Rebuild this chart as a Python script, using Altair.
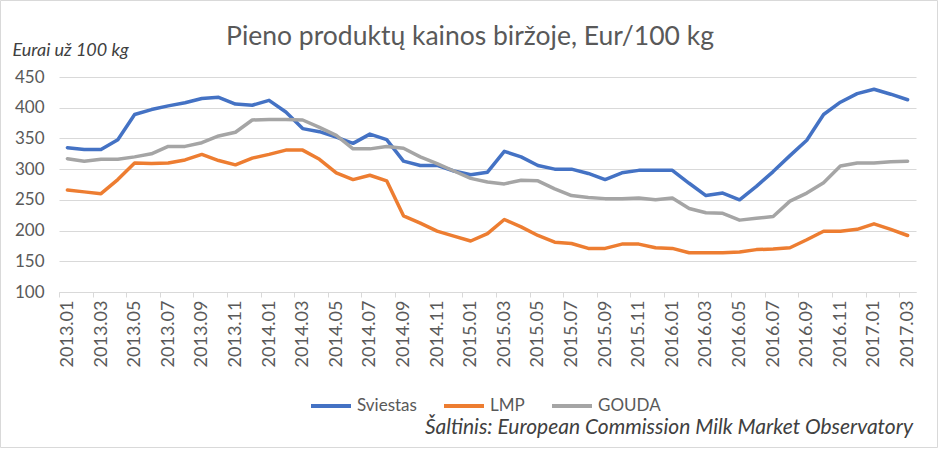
import altair as alt
import pandas as pd

months = [
    "2013.01", "2013.02", "2013.03", "2013.04", "2013.05", "2013.06", "2013.07", "2013.08", "2013.09", "2013.10", "2013.11", "2013.12",
    "2014.01", "2014.02", "2014.03", "2014.04", "2014.05", "2014.06", "2014.07", "2014.08", "2014.09", "2014.10", "2014.11", "2014.12",
    "2015.01", "2015.02", "2015.03", "2015.04", "2015.05", "2015.06", "2015.07", "2015.08", "2015.09", "2015.10", "2015.11", "2015.12",
    "2016.01", "2016.02", "2016.03", "2016.04", "2016.05", "2016.06", "2016.07", "2016.08", "2016.09", "2016.10", "2016.11", "2016.12",
    "2017.01", "2017.02", "2017.03",
]

sviestas = [335, 332, 332, 348, 389, 397, 403, 408, 415, 417, 406, 404,
            412, 393, 366, 361, 352, 342, 357, 348, 313, 306, 306, 297,
            291, 295, 329, 320, 306, 300, 300, 293, 283, 294, 298, 298,
            298, 277, 257, 261, 250, 272, 296, 322, 347, 389, 409, 423,
            430, 422, 413]

lmp = [266, 263, 260, 283, 310, 309, 310, 315, 324, 314, 307, 318,
       324, 331, 331, 316, 294, 283, 290, 281, 224, 212, 199, 191,
       183, 195, 218, 206, 192, 181, 179, 171, 171, 178, 178, 172,
       171, 164, 164, 164, 165, 169, 170, 172, 185, 199, 199, 202,
       211, 202, 192]

gouda = [317, 313, 316, 316, 320, 325, 337, 337, 343, 354, 360, 380,
         381, 381, 380, 368, 355, 333, 333, 337, 334, 320, 309, 297,
         285, 279, 276, 282, 281, 268, 257, 254, 252, 252, 253, 250,
         253, 236, 229, 228, 217, 220, 223, 248, 261, 278, 305, 310,
         310, 312, 313]

series_names = ["Sviestas", "LMP", "GOUDA"]
series_colors = ["#4472C4", "#ED7D31", "#A5A5A5"]
y_ticks = [100, 150, 200, 250, 300, 350, 400, 450]
x_labels = months[::2]

title_text = "Pieno produktų kainos biržoje, Eur/100 kg"
y_title = "Eurai už 100 kg"
source_text = "Šaltinis: European Commission Milk Market Observatory"

rows = []
for name, vals in zip(series_names, [sviestas, lmp, gouda]):
    for m, v in zip(months, vals):
        rows.append({"month": m, "value": v, "series": name})
df = pd.DataFrame(rows)

W, H = 857, 215
step = W / len(months)

lines = alt.Chart(df).mark_line(strokeWidth=3.5, strokeJoin="round", strokeCap="round").encode(
    x=alt.X("month:O", sort=months, title=None,
            scale=alt.Scale(type="point", padding=0.5),
            axis=alt.Axis(values=x_labels, labelAngle=-90, labelFontSize=18, labelColor="#595959",
                          tickOffset=-step / 2, labelOffset=step / 2, tickSize=5, tickColor="#d9d9d9",
                          domainColor="#d9d9d9", labelPadding=3, grid=False)),
    y=alt.Y("value:Q", title=y_title,
            scale=alt.Scale(domain=[100, 450], nice=False, zero=False),
            axis=alt.Axis(values=y_ticks, labelFontSize=17, labelColor="#595959", ticks=False, domain=False,
                          gridColor="#d9d9d9", labelPadding=15,
                          titleAngle=0, titleAlign="left", titleBaseline="middle", titleX=-47, titleY=-27,
                          titleFontStyle="italic", titleFontWeight="normal", titleFontSize=18,
                          titleColor="#404040")),
    color=alt.Color("series:N", sort=series_names,
                    scale=alt.Scale(domain=series_names, range=series_colors),
                    legend=alt.Legend(title=None, orient="none", legendX=250, legendY=307,
                                      direction="horizontal", symbolType="stroke", symbolStrokeWidth=4,
                                      symbolSize=1600, labelFontSize=17, labelColor="#595959",
                                      columnPadding=19, labelOffset=4)),
)

src_df = pd.DataFrame({"t": [source_text]})
source = alt.Chart(src_df).mark_text(align="right", baseline="middle", fontStyle="italic",
                                     fontSize=21, color="#404040").encode(
    text="t:N", x=alt.value(854), y=alt.value(351))

title = alt.Chart(src_df).mark_text(align="center", baseline="middle", fontSize=26.5,
                                    color="#595959").encode(
    text=alt.value(title_text), x=alt.value(411), y=alt.value(-40))

border = alt.Chart(src_df).mark_rect(fill="transparent", stroke="#d9d9d9", strokeWidth=1).encode(
    x=alt.value(-58.5), x2=alt.value(878.5), y=alt.value(-76.5), y2=alt.value(370.5))

chart = alt.layer(border, lines, source, title).properties(
    width=W, height=H,
    autosize=alt.AutoSizeParams(type="none"),
    padding={"left": 59, "top": 77, "right": 24, "bottom": 158},
).configure(font="Lato", background="white").configure_view(stroke=None)

chart.save("out.html", embed_options={"renderer": "svg", "actions": False})
